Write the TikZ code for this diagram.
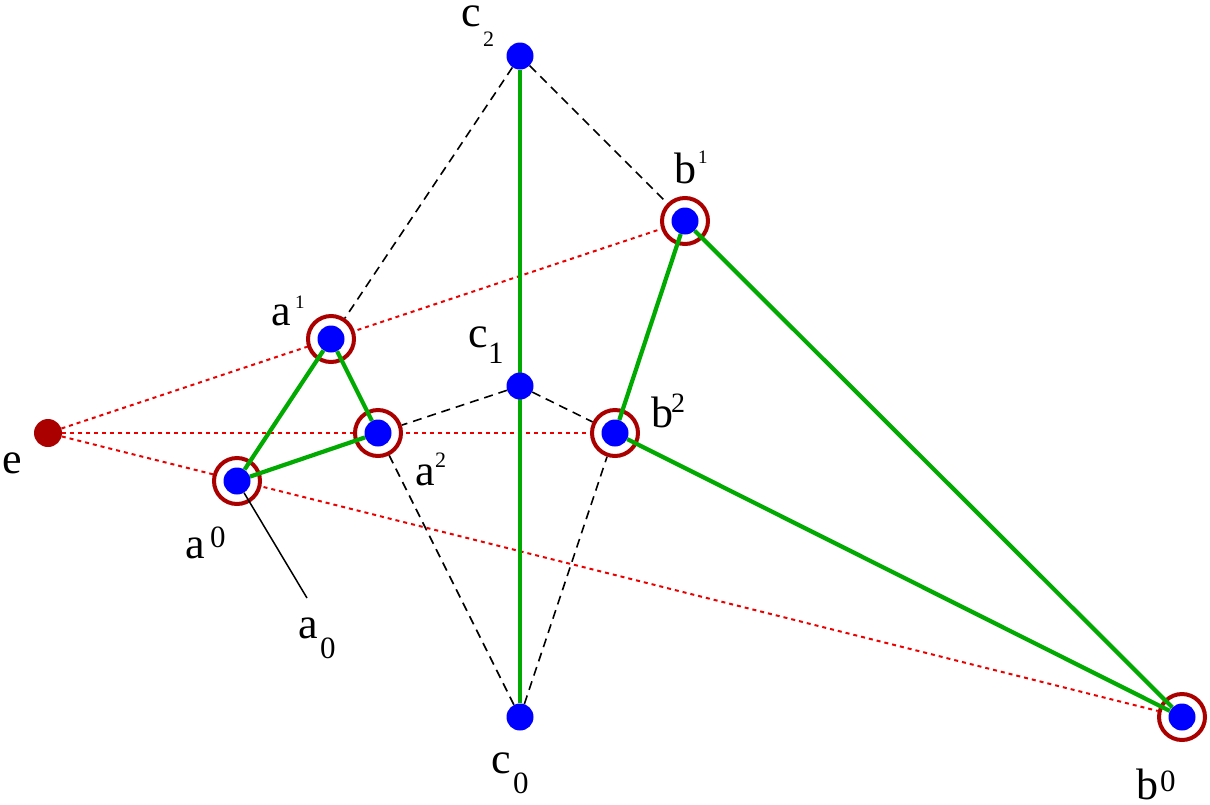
\documentclass[tikz,border=0pt]{standalone}
\usepackage{fontspec}
\newfontfamily\lblfont{Liberation Serif}
\pgfdeclarelayer{lines}
\pgfdeclarelayer{rings}
\pgfdeclarelayer{green}
\pgfsetlayers{lines,rings,green,main}
\definecolor{ringred}{RGB}{170,0,0}
\definecolor{dotblue}{RGB}{0,0,255}
\definecolor{edgegreen}{RGB}{0,170,0}
\definecolor{rayred}{RGB}{235,0,0}
\tikzset{
  dot/.style={circle,fill=dotblue,minimum size=27pt,inner sep=0pt},
  edot/.style={circle,fill=ringred,minimum size=28pt,inner sep=0pt},
  ring/.style={circle,draw=ringred,fill=white,line width=4pt,minimum size=46pt,inner sep=0pt},
  greenedge/.style={draw=edgegreen,line width=4.2pt},
  hidden/.style={draw=black,line width=1.6pt,dash pattern=on 9pt off 6pt},
  ray/.style={draw=rayred,line width=2pt,dash pattern=on 4pt off 4pt},
  lbl/.style={inner sep=0pt,anchor=base west,font=\lblfont\fontsize{44}{44}\selectfont},
  idx/.style={inner sep=0pt,anchor=base west,font=\lblfont\fontsize{31}{31}\selectfont},
  idxs/.style={inner sep=0pt,anchor=base west,font=\lblfont\fontsize{19}{19}\selectfont},
}
\begin{document}
\begin{tikzpicture}[x=1pt,y=-1pt]
\useasboundingbox (0,0) rectangle (1210,804);
% points
\node[edot] (e) at (48,433) {};
\node[dot] (a0) at (237,481) {};
\node[dot] (a1) at (331,339) {};
\node[dot] (a2) at (378,433) {};
\node[dot] (b0) at (1182,717) {};
\node[dot] (b1) at (685,221) {};
\node[dot] (b2) at (615,433) {};
\node[dot] (c0) at (520,717) {};
\node[dot] (c1) at (520,386) {};
\node[dot] (c2) at (520,56) {};
\begin{pgfonlayer}{rings}
\node[ring] (a0r) at (a0) {};
\node[ring] (a1r) at (a1) {};
\node[ring] (a2r) at (a2) {};
\node[ring] (b0r) at (b0) {};
\node[ring] (b1r) at (b1) {};
\node[ring] (b2r) at (b2) {};
\end{pgfonlayer}
% dashed and dotted lines
\begin{pgfonlayer}{lines}
\draw[hidden] (c2) -- (a1r);
\draw[hidden] (c2) -- (b1r);
\draw[hidden] (c1) -- (a2r);
\draw[hidden] (c1) -- (b2r);
\draw[hidden] (c0) -- (a2r);
\draw[hidden] (c0) -- (b2r);
\draw[ray] (e) -- (b1r);
\draw[ray] (e) -- (b2r);
\draw[ray] (e) -- (b0r);
\end{pgfonlayer}
% green edges
\begin{pgfonlayer}{green}
\draw[greenedge] (a0) -- (a1) -- (a2) -- (a0);
\draw[greenedge] (b1) -- (b2) -- (b0) -- (b1);
\draw[greenedge] (c2) -- (c0);
\end{pgfonlayer}
% leader to a_0
\coordinate (a0tip) at (307,598);
\draw[line width=1.5pt] (a0) -- (a0tip);
% labels
\node[lbl] (le) at (2,473) {e};
\node[lbl] (la0) at (185,558) {a};
\node[idx] (la0i) at (210,547) {0};
\node[lbl] (lsa0) at (298,638) {a};
\node[idx] (lsa0i) at (320,658) {0};
\node[lbl] (la1) at (271,325) {a};
\node[idxs] (la1i) at (295,308) {1};
\node[lbl] (la2) at (415,485) {a};
\node[idx,font=\lblfont\fontsize{22}{22}\selectfont] (la2i) at (435,467) {2};
\node[lbl] (lb0) at (1136,799) {b};
\node[idx] (lb0i) at (1160,791) {0};
\node[lbl] (lb1) at (674,183) {b};
\node[idxs] (lb1i) at (698,163) {1};
\node[lbl] (lb2) at (651,427) {b};
\node[idx,font=\lblfont\fontsize{28}{28}\selectfont] (lb2i) at (671,412) {2};
\node[lbl] (lc0) at (491,773) {c};
\node[idx] (lc0i) at (513,793) {0};
\node[lbl] (lc1) at (468,347) {c};
\node[idx] (lc1i) at (488,363) {1};
\node[lbl] (lc2) at (461,26) {c};
\node[idx,font=\lblfont\fontsize{22}{22}\selectfont] (lc2i) at (483,46) {2};
\end{tikzpicture}
\end{document}
